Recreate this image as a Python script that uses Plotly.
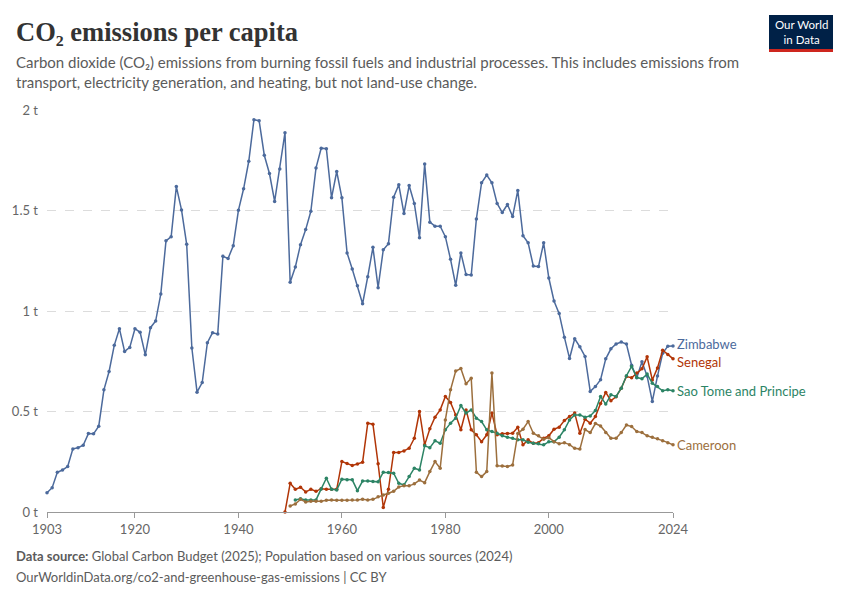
import plotly.graph_objects as go

# CO2 per capita, tonnes
zimbabwe_years = list(range(1903, 2025))
zimbabwe = [
    0.096, 0.121, 0.198, 0.209, 0.226, 0.314, 0.320, 0.332, 0.390, 0.389,
    0.427, 0.608, 0.699, 0.829, 0.912, 0.799, 0.819, 0.912, 0.894, 0.782,
    0.917, 0.950, 1.085, 1.349, 1.370, 1.619, 1.503, 1.332, 0.816, 0.596,
    0.644, 0.842, 0.892, 0.885, 1.272, 1.261, 1.325, 1.501, 1.608, 1.745,
    1.952, 1.947, 1.775, 1.684, 1.545, 1.706, 1.887, 1.143, 1.219, 1.330,
    1.405, 1.496, 1.712, 1.810, 1.807, 1.563, 1.694, 1.563, 1.289, 1.209,
    1.126, 1.036, 1.171, 1.317, 1.116, 1.305, 1.335, 1.566, 1.628, 1.485,
    1.624, 1.535, 1.365, 1.731, 1.442, 1.422, 1.422, 1.370, 1.257, 1.128,
    1.289, 1.181, 1.179, 1.458, 1.638, 1.676, 1.638, 1.535, 1.490, 1.530,
    1.470, 1.600, 1.375, 1.339, 1.224, 1.221, 1.339, 1.164, 1.050, 0.987,
    0.870, 0.764, 0.862, 0.822, 0.774, 0.600, 0.624, 0.658, 0.762, 0.812,
    0.836, 0.846, 0.836, 0.730, 0.668, 0.748, 0.676, 0.550, 0.676, 0.790,
    0.825, 0.826,
]

senegal_years = list(range(1949, 2025))
senegal = [
    0.000, 0.143, 0.113, 0.123, 0.100, 0.113, 0.103, 0.116, 0.113, 0.113,
    0.113, 0.251, 0.241, 0.231, 0.239, 0.248, 0.442, 0.437, 0.240, 0.023,
    0.113, 0.296, 0.296, 0.304, 0.317, 0.367, 0.500, 0.334, 0.414, 0.472,
    0.508, 0.575, 0.545, 0.483, 0.409, 0.508, 0.409, 0.384, 0.350, 0.384,
    0.492, 0.384, 0.389, 0.390, 0.392, 0.422, 0.334, 0.359, 0.342, 0.345,
    0.367, 0.379, 0.412, 0.422, 0.455, 0.475, 0.492, 0.392, 0.462, 0.442,
    0.475, 0.540, 0.595, 0.554, 0.573, 0.616, 0.674, 0.668, 0.691, 0.713,
    0.772, 0.657, 0.717, 0.805, 0.784, 0.762,
]

sao_tome_years = list(range(1951, 2025))
sao_tome = [
    0.060, 0.066, 0.060, 0.060, 0.060, 0.115, 0.168, 0.113, 0.110, 0.163,
    0.160, 0.160, 0.106, 0.154, 0.154, 0.152, 0.150, 0.198, 0.196, 0.193,
    0.143, 0.135, 0.176, 0.218, 0.209, 0.329, 0.320, 0.354, 0.342, 0.409,
    0.442, 0.467, 0.530, 0.492, 0.508, 0.467, 0.450, 0.409, 0.400, 0.392,
    0.379, 0.372, 0.367, 0.359, 0.359, 0.347, 0.342, 0.339, 0.334, 0.350,
    0.350, 0.372, 0.409, 0.458, 0.483, 0.483, 0.472, 0.478, 0.505, 0.575,
    0.537, 0.583, 0.575, 0.616, 0.678, 0.724, 0.669, 0.663, 0.686, 0.641,
    0.624, 0.603, 0.608, 0.603,
]

cameroon_years = list(range(1950, 2025))
cameroon = [
    0.030, 0.040, 0.063, 0.050, 0.053, 0.053, 0.053, 0.058, 0.060, 0.058,
    0.058, 0.058, 0.060, 0.060, 0.063, 0.060, 0.063, 0.076, 0.085, 0.093,
    0.103, 0.125, 0.130, 0.130, 0.140, 0.159, 0.146, 0.201, 0.251, 0.218,
    0.458, 0.608, 0.701, 0.714, 0.638, 0.665, 0.198, 0.176, 0.201, 0.691,
    0.230, 0.229, 0.226, 0.234, 0.390, 0.412, 0.450, 0.392, 0.379, 0.362,
    0.370, 0.350, 0.340, 0.345, 0.335, 0.317, 0.313, 0.410, 0.395, 0.440,
    0.428, 0.395, 0.367, 0.367, 0.395, 0.433, 0.425, 0.400, 0.395, 0.379,
    0.372, 0.364, 0.355, 0.345, 0.334,
]

x_ticks = [1903, 1920, 1940, 1960, 1980, 2000, 2024]
y_ticks = [0, 0.5, 1, 1.5, 2]
y_labels = ["0 t", "0.5 t", "1 t", "1.5 t", "2 t"]

series = [
    ("Zimbabwe", zimbabwe_years, zimbabwe, "#4c6a9c", 2),
    ("Senegal", senegal_years, senegal, "#b13507", -3),
    ("Sao Tome and Principe", sao_tome_years, sao_tome, "#2c8465", 0),
    ("Cameroon", cameroon_years, cameroon, "#9c6f3d", 0),
]

FONT = "Lato, 'Open Sans', sans-serif"

fig = go.Figure()
for name, xs, ys, color, shift in series:
    fig.add_trace(go.Scatter(
        x=xs, y=ys, name=name, mode="lines+markers",
        line=dict(color=color, width=1.5),
        marker=dict(color=color, size=3.5),
        cliponaxis=False, showlegend=False,
    ))
    fig.add_annotation(
        x=xs[-1], y=ys[-1], xref="x", yref="y", text=name,
        showarrow=False, xanchor="left", xshift=2, yshift=shift,
        font=dict(family=FONT, size=13, color=color),
    )

# plot area as seen on the page (px): x 47..673, y 110..512
def px(x):
    return (x - 47) / 626.0

def py(y):
    return (512 - y) / 402.0

fig.add_annotation(
    x=px(14), y=py(32), xref="paper", yref="paper", showarrow=False,
    xanchor="left", yanchor="middle", text="<b>CO₂ emissions per capita</b>",
    font=dict(family="'Liberation Serif', 'DejaVu Serif', serif", size=26.5, color="#333333"),
)
fig.add_annotation(
    x=px(14), y=py(51), xref="paper", yref="paper", showarrow=False,
    xanchor="left", yanchor="top", align="left",
    text="Carbon dioxide (CO₂) emissions from burning fossil fuels and industrial processes. This includes emissions from<br>"
         "transport, electricity generation, and heating, but not land-use change.",
    font=dict(family=FONT, size=15, color="#5b5b5b"),
)
fig.add_annotation(
    x=px(14), y=py(556), xref="paper", yref="paper", showarrow=False,
    xanchor="left", yanchor="middle",
    text="<b>Data source:</b> Global Carbon Budget (2025); Population based on various sources (2024)",
    font=dict(family=FONT, size=13, color="#5b5b5b"),
)
fig.add_annotation(
    x=px(14), y=py(577), xref="paper", yref="paper", showarrow=False,
    xanchor="left", yanchor="middle",
    text="OurWorldinData.org/co2-and-greenhouse-gas-emissions | CC BY",
    font=dict(family=FONT, size=13, color="#5b5b5b"),
)

# logo
fig.add_shape(type="rect", xref="paper", yref="paper",
              x0=px(769), x1=px(833), y0=py(49), y1=py(15),
              fillcolor="#002147", line_width=0)
fig.add_shape(type="rect", xref="paper", yref="paper",
              x0=px(769), x1=px(833), y0=py(52), y1=py(49),
              fillcolor="#ce261e", line_width=0)
fig.add_annotation(
    x=px(801), y=py(32), xref="paper", yref="paper", showarrow=False,
    xanchor="center", yanchor="middle", text="Our World<br>in Data",
    font=dict(family=FONT, size=11.5, color="white"),
)

# page body adds 8px, so margins are 8px smaller on left/top
fig.update_layout(
    width=850, height=600,
    margin=dict(l=39, r=185, t=102, b=96),
    plot_bgcolor="white", paper_bgcolor="white",
    font=dict(family=FONT, color="#666"),
)
fig.update_xaxes(
    range=[1903, 2024], tickvals=x_ticks, showgrid=False, zeroline=False,
    showline=True, linecolor="#999", linewidth=1, automargin=False,
    ticks="outside", ticklen=5, tickcolor="#999",
    tickfont=dict(family=FONT, size=13, color="#666"),
)
fig.update_yaxes(
    range=[0, 2], tickvals=y_ticks, ticktext=y_labels,
    showgrid=True, gridcolor="#dcdcdc", griddash="dash", gridwidth=1,
    zeroline=False, showline=False, ticks="", ticklabelstandoff=8,
    automargin=False,
    tickfont=dict(family=FONT, size=13, color="#666"),
)

fig.write_html("out.html")
